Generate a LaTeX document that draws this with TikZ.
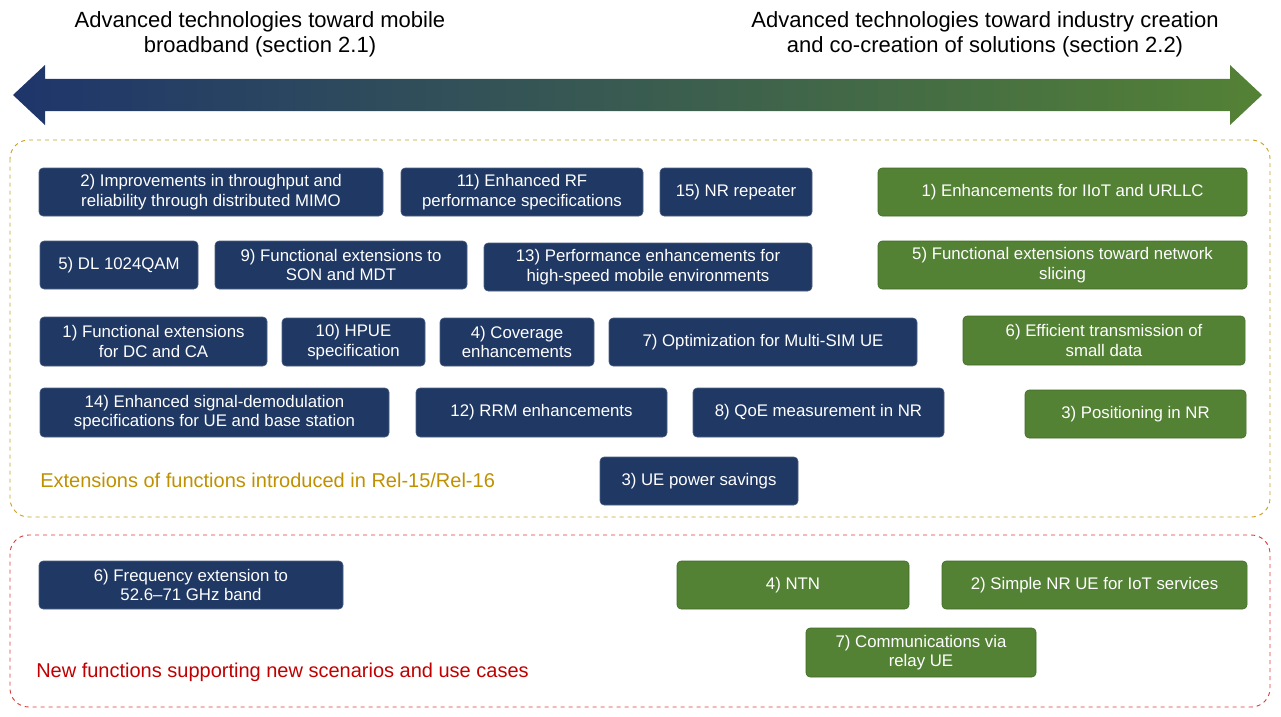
\documentclass[tikz,border=0pt]{standalone}
\usepackage{fontspec}
\setmainfont{Liberation Sans}
\definecolor{navy}{HTML}{203864}
\definecolor{grn}{HTML}{548235}
\definecolor{grnd}{HTML}{3E6B26}
\definecolor{gold}{HTML}{C9A227}
\definecolor{goldt}{HTML}{BF9000}
\definecolor{redd}{HTML}{E03A3A}
\definecolor{redt}{HTML}{C00000}
\begin{document}
\begin{tikzpicture}[x=0.75pt,y=-0.75pt,
  nv/.style={fill=navy,draw=navy!80!white,rounded corners=3pt,text=white,align=center,font=\fontsize{12.6}{14.5}\selectfont,inner sep=0pt},
  gn/.style={fill=grn,draw=grnd,rounded corners=3pt,text=white,align=center,font=\fontsize{12.6}{14.5}\selectfont,inner sep=0pt},
  hd/.style={align=center,font=\fontsize{16.5}{19}\selectfont},
  grp/.style={dashed,rounded corners=14pt,line width=0.7pt}]
\useasboundingbox (0,0) rectangle (1281,717);
\newcommand{\bx}[7]{\node[#6,minimum width={(#4-#2)*0.75pt},minimum height={(#5-#3)*0.75pt}] (#1) at ({(#2+#4)/2},{(#3+#5)/2}) {#7};}
\node[hd] (hl) at (260,34) {Advanced technologies toward mobile\\broadband (section 2.1)};
\node[hd] (hr) at (985,34) {Advanced technologies toward industry creation\\and co-creation of solutions (section 2.2)};
\shade[left color=navy!95!blue,middle color=navy!40!grn,right color=grn] (13,95) -- (45,65) -- (45,79) -- (1230,79) -- (1230,65) -- (1262,95) -- (1230,125) -- (1230,111) -- (45,111) -- (45,125) -- cycle;
\draw[grp,draw=gold] (10,140) rectangle (1270,517);
\draw[grp,draw=redd] (10,535) rectangle (1270,707);
\bx{a2}{39}{168}{383}{216}{nv}{2) Improvements in throughput and\\reliability through distributed MIMO}
\bx{a11}{401}{168}{643}{216}{nv}{11) Enhanced RF\\performance specifications}
\bx{a15}{660}{168}{812}{216}{nv}{15) NR repeater}
\bx{a5}{40}{241}{198}{289}{nv}{5) DL 1024QAM}
\bx{a9}{215}{241}{467}{289}{nv}{9) Functional extensions to\\SON and MDT}
\bx{a13}{484}{243}{812}{291}{nv}{13) Performance enhancements for\\high-speed mobile environments}
\bx{a1}{40}{317}{267}{366}{nv}{1) Functional extensions\\for DC and CA}
\bx{a10}{282}{318}{425}{366}{nv}{10) HPUE\\specification}
\bx{a4}{440}{318}{594}{366}{nv}{4) Coverage\\enhancements}
\bx{a7}{609}{318}{917}{366}{nv}{7) Optimization for Multi-SIM UE}
\bx{a14}{40}{388}{389}{437}{nv}{14) Enhanced signal-demodulation\\specifications for UE and base station}
\bx{a12}{416}{388}{667}{437}{nv}{12) RRM enhancements}
\bx{a8}{693}{388}{944}{437}{nv}{8) QoE measurement in NR}
\bx{a3}{600}{457}{798}{505}{nv}{3) UE power savings}
\bx{a6}{39}{561}{343}{609}{nv}{6) Frequency extension to\\52.6–71 GHz band}
\bx{b1}{878}{168}{1247}{216}{gn}{1) Enhancements for IIoT and URLLC}
\bx{b5}{878}{241}{1247}{289}{gn}{5) Functional extensions toward network\\slicing}
\bx{b6}{963}{316}{1245}{365}{gn}{6) Efficient transmission of\\small data}
\bx{b3}{1025}{390}{1246}{438}{gn}{3) Positioning in NR}
\bx{b4}{677}{561}{909}{609}{gn}{4) NTN}
\bx{b2}{942}{561}{1247}{609}{gn}{2) Simple NR UE for IoT services}
\bx{b7}{806}{628}{1036}{677}{gn}{7) Communications via\\relay UE}
\node[anchor=west,text=goldt,font=\fontsize{15}{17}\selectfont,inner sep=0pt] (lg) at (40,480) {Extensions of functions introduced in Rel-15/Rel-16};
\node[anchor=west,text=redt,font=\fontsize{15}{17}\selectfont,inner sep=0pt] (lr) at (36,672) {New functions supporting new scenarios and use cases};
\end{tikzpicture}
\end{document}
